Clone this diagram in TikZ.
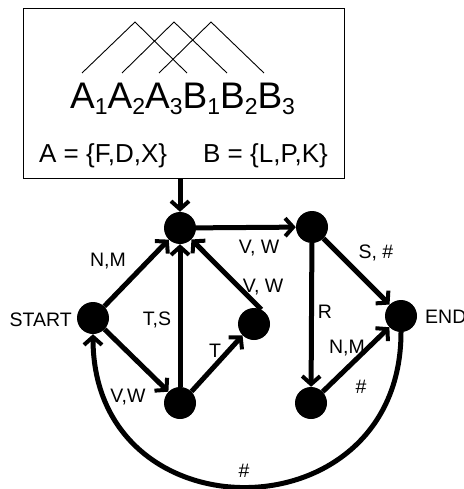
\documentclass[tikz,border=0pt]{standalone}
\usepackage{fontspec}
\setmainfont{Liberation Sans}
\usetikzlibrary{arrows.meta}
% lowered digit used as a subscript in the sequence line
\newcommand\lsub[1]{\raisebox{-6pt}{\fontsize{23}{23}\selectfont #1}}
\begin{document}
\begin{tikzpicture}[x=1pt,y=-1pt,
  state/.style={circle,fill=black,minimum size=32pt,inner sep=0pt},
  edge/.style={line width=5pt,
    -{Straight Barb[length=8pt,width=18pt,line width=4pt,line cap=butt,line join=miter]}},
  lbl/.style={font=\fontsize{19.5}{22}\selectfont,inner sep=0pt,anchor=base},
  thin/.style={line width=0.9pt}]
\useasboundingbox (0,0) rectangle (463,489);

% header box with the dependency pattern
\node[draw,line width=1.3pt,minimum width=321pt,minimum height=170pt,
      inner sep=0pt,anchor=north west] (box) at (23,8) {};
\draw[thin] (82,73) -- (135,22) -- (187,73);
\draw[thin] (122,73) -- (174,22) -- (227,73);
\draw[thin] (159,73) -- (211,22) -- (264,73);
\node[anchor=base west,inner sep=0pt,font=\fontsize{37}{40}\selectfont] (seq) at (70,109)
  {A\lsub{1}A\lsub{2}A\lsub{3}B\lsub{1}B\lsub{2}B\lsub{3}};
\node[anchor=base west,inner sep=0pt,font=\fontsize{26}{30}\selectfont] (seta) at (39,162)
  {A = \{F,D,X\}};
\node[anchor=base west,inner sep=0pt,font=\fontsize{26}{30}\selectfont] (setb) at (203,162)
  {B = \{L,P,K\}};

% states
\node[state] (top) at (180,228) {};
\node[state] (start) at (93,318) {};
\node[state] (bl) at (180,403) {};
\node[state] (mid) at (254,324) {};
\node[state] (tr) at (312,227) {};
\node[state] (endn) at (401,316) {};
\node[state] (br) at (311,403) {};

\node[lbl,anchor=base east] (startlbl) at (72,326) {START};
\node[lbl,anchor=base west] (endlbl) at (425,323) {END};

% transitions
\draw[edge] (box.south -| top) -- (top);
\draw[edge] (start) -- (top);
\draw[edge] (start) -- (bl);
\draw[edge] (bl) -- (top);
\draw[edge] (bl.45) -- (mid.225);
\draw[edge] (mid.63) -- (top.-45);
\draw[edge] (top) -- (tr);
\draw[edge] (tr) -- (endn);
\draw[edge] (tr) -- (br);
\draw[edge] (br) -- (endn);
\draw[edge] (endn.south) .. controls +(0,205) and +(0,205) .. (start.south);

% transition labels
\node[lbl] (l1) at (108,266) {N,M};
\node[lbl] (l2) at (157,325) {T,S};
\node[lbl] (l3) at (215,357) {T};
\node[lbl] (l4) at (128,402) {V,W};
\node[lbl] (l5) at (259,253) {V, W};
\node[lbl] (l6) at (263,292) {V, W};
\node[lbl] (l7) at (376,258) {S, \#};
\node[lbl] (l8) at (325,318) {R};
\node[lbl] (l9) at (347,353) {N,M};
\node[lbl] (l10) at (361,393) {\#};
\node[lbl] (l11) at (244,477) {\#};
\end{tikzpicture}
\end{document}
